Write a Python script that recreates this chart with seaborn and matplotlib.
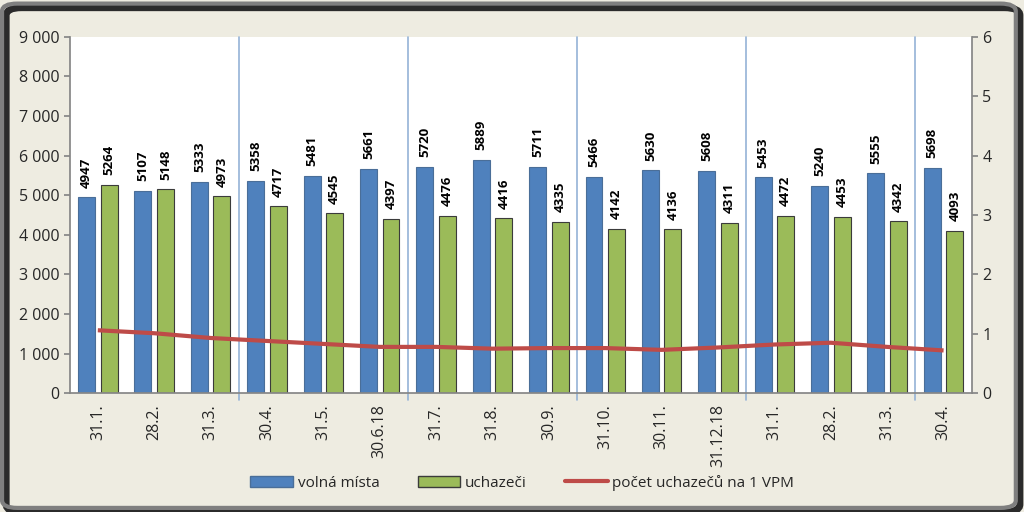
import numpy as np
import pandas as pd
import matplotlib
matplotlib.use("Agg")
import matplotlib.pyplot as plt
import matplotlib.ticker as mticker
from matplotlib.patches import FancyBboxPatch, Patch
from matplotlib.lines import Line2D
import seaborn as sns

# data
dates = ['31.1.', '28.2.', '31.3.', '30.4.', '31.5.', '30.6.18', '31.7.', '31.8.',
         '30.9.', '31.10.', '30.11.', '31.12.18', '31.1.', '28.2.', '31.3.', '30.4.']
volna_mista = [4947, 5107, 5333, 5358, 5481, 5661, 5720, 5889,
               5711, 5466, 5630, 5608, 5453, 5240, 5555, 5698]
uchazeci = [5264, 5148, 4973, 4717, 4545, 4397, 4476, 4416,
            4335, 4142, 4136, 4311, 4472, 4453, 4342, 4093]
na_1_vpm = [1.06, 1.01, 0.93, 0.88, 0.83, 0.78, 0.78, 0.75,
            0.76, 0.76, 0.73, 0.77, 0.82, 0.85, 0.78, 0.72]
quarter_breaks = [2.5, 5.5, 8.5, 11.5, 14.5]

blue = '#4F81BD'
green = '#9BBB59'
red = '#BE4B48'
bg = '#EEECE1'

sns.set_theme(style='white')
plt.rcParams['font.family'] = ['Open Sans', 'DejaVu Sans']

idx = [f'{i:02d}' for i in range(len(dates))]
df = pd.DataFrame({
    'pos': idx * 2,
    'hodnota': volna_mista + uchazeci,
    'serie': ['volná místa'] * len(dates) + ['uchazeči'] * len(dates),
})

fig = plt.figure(figsize=(10.24, 5.12), dpi=100, facecolor=bg)
ax = fig.add_axes([0.068, 0.232, 0.881, 0.696])
ax.set_facecolor('white')

sns.barplot(data=df, x='pos', y='hodnota', hue='serie', palette=[blue, green],
            width=0.8, gap=0.25, ax=ax, legend=False, saturation=1,
            edgecolor='#3b3b3b', linewidth=0.8)
for patch in ax.patches[:len(dates)]:
    patch.set_edgecolor('#4a6e98')

for cont in ax.containers:
    ax.bar_label(cont, fmt='%d', rotation=90, padding=7, fontsize=9.5,
                 fontweight='bold', color='black')

ax.set_xlim(-0.5, len(dates) - 0.5)
ax.set_ylim(0, 9000)
ax.set_yticks(np.arange(0, 9001, 1000))
ax.yaxis.set_major_formatter(mticker.FuncFormatter(lambda v, p: f'{v:,.0f}'.replace(',', ' ')))
ax.set_xticks(range(len(dates)))
ax.set_xticklabels(dates, rotation=90)
ax.set_xticks(np.arange(0.5, len(dates) - 0.5, 1), minor=True)
ax.tick_params(axis='x', which='major', length=0, pad=8, labelsize=11.5)
ax.tick_params(axis='x', which='minor', length=4, color='#868686', direction='out')
ax.tick_params(axis='y', length=4, color='#868686', direction='out', labelsize=11.5, left=True)
ax.set_xlabel('')
ax.set_ylabel('')

for b in quarter_breaks:
    ax.axvline(b, ymin=-0.02, ymax=1, color='#95B3D7', linewidth=1.2, clip_on=False, zorder=0.5)

for s in ['left', 'bottom']:
    ax.spines[s].set_color('#868686')
ax.spines['top'].set_visible(False)
ax.spines['right'].set_visible(False)

ax2 = ax.twinx()
ax2.plot(range(len(dates)), na_1_vpm, color=red, linewidth=3, solid_capstyle='butt')
ax2.set_ylim(0, 6)
ax2.set_yticks(range(0, 7))
ax2.tick_params(axis='y', length=4, color='#868686', direction='out', labelsize=11.5, right=True)
ax2.spines['right'].set_color('#868686')
for s in ['top', 'left', 'bottom']:
    ax2.spines[s].set_visible(False)
ax2.grid(False)

handles = [Patch(facecolor=blue, edgecolor='#4a6e98', label='volná místa'),
           Patch(facecolor=green, edgecolor='#3b3b3b', label='uchazeči'),
           Line2D([], [], color=red, linewidth=3, label='počet uchazečů na 1 VPM')]
fig.legend(handles=handles, loc='center', bbox_to_anchor=(0.51, 0.057), ncol=3,
           frameon=False, fontsize=11, handlelength=2.8, handleheight=0.7,
           columnspacing=2.5, handletextpad=0.3)

# shadow + frame
shadow = FancyBboxPatch((0.006, 0.0), 0.99, 0.985, boxstyle='round,pad=0,rounding_size=0.015',
                        transform=fig.transFigure, facecolor='none', edgecolor='#2b2b2b',
                        linewidth=5, zorder=9)
frame = FancyBboxPatch((0.002, 0.008), 0.99, 0.985, boxstyle='round,pad=0,rounding_size=0.015',
                       transform=fig.transFigure, facecolor='none', edgecolor='#7f7f7f',
                       linewidth=3, zorder=10)
fig.patches.extend([shadow, frame])

fig.savefig('out.png', dpi=100, facecolor=bg)
